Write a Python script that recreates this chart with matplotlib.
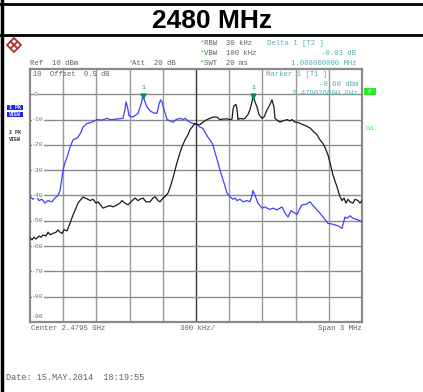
# Spectrum analyzer screen: 2480 MHz channel, two PK traces.

import matplotlib.pyplot as plt
from matplotlib.patches import Polygon, Rectangle

# Trace 1 (blue), x in pixels of the screen grid -> converted to MHz offset below
blue_px = [30, 33, 36, 39, 42, 45, 48, 52, 55, 58, 60, 62, 63, 65, 67, 70, 73, 76, 78, 81,
           83, 87, 92, 97, 102, 107, 110, 113, 118, 123, 125, 126, 127.5, 129, 132, 135, 138, 141, 143, 145,
           147, 150, 152, 155, 157, 159, 160.5, 162, 164, 167, 170, 173, 176, 180, 183, 185, 188, 190, 193, 197,
           200, 203, 205, 208, 210, 213, 215, 218, 220, 224, 227, 230, 233, 235, 237, 240, 243, 247, 250, 252,
           253, 255, 258, 262, 265, 267, 270, 273, 277, 280, 282, 285, 288, 291, 293, 297, 300, 302, 306, 310,
           313, 317, 320, 323, 326, 328, 331, 334, 338, 342, 344, 345, 347, 350, 353, 357, 360, 362]
blue_db = [-40.5, -41.5, -40, -42, -41.5, -43, -42, -42.5, -41, -40, -38, -33, -30, -27, -25, -21, -18, -17.5, -17, -15,
           -13, -11.5, -11, -10, -10.2, -9.5, -10, -10, -9.7, -9.5, -6, -3, -5, -8.5, -9, -8.5, -7.5, -4, -0.6, -3,
           -5, -6.5, -7, -7.5, -7.5, -4, -2.2, -3, -6, -10, -10.5, -11, -10, -9.5, -10, -9.5, -10.5, -11, -11.5, -12,
           -13, -13.5, -15, -17, -18, -20, -23, -27, -30, -35, -39, -40.5, -41.5, -41, -42, -41.5, -42.5, -42, -42.5, -40,
           -38, -40, -43, -45, -44.5, -45, -45.5, -45, -45.7, -45, -44.5, -47, -48.5, -46, -46.5, -47.5, -45, -43.7, -43.5, -42.5,
           -44, -45.7, -47, -48.5, -50, -51, -51.2, -51.5, -52, -53, -50, -48.5, -49, -48, -49, -49.5, -50, -50.5]

# Trace 2 (black)
black_px = [30, 32, 34, 36, 39, 41, 43, 46, 48, 50, 53, 56, 58, 60, 62, 64, 67, 70, 73, 76,
            78, 80, 83, 85, 88, 90, 93, 96, 98, 101, 103, 106, 110, 113, 117, 120, 122, 125, 128, 131,
            135, 138, 140, 143, 146, 150, 153, 155, 158, 160, 163, 165, 168, 170, 173, 177, 180, 182, 185, 188,
            190, 193, 195, 198, 200, 203, 207, 210, 213, 217, 220, 223, 227, 230, 232, 233, 234, 236, 237, 238,
            240, 243, 245, 248, 250, 252, 253, 255, 257, 259, 262, 264, 267, 270, 272, 274, 275, 278, 280, 283,
            287, 290, 292, 295, 297, 300, 303, 306, 310, 313, 317, 320, 323, 325, 328, 330, 333, 337, 340, 342,
            344, 346, 348, 350, 353, 355, 358, 360, 362]
black_db = [-56.8, -57.5, -56.5, -57.2, -56, -56.5, -55.6, -56, -54.5, -55.5, -55, -54.5, -53.6, -54.5, -55, -53.5, -54, -51, -47.7, -45,
            -43, -42, -40.6, -41, -41.5, -42, -41.5, -43, -42.5, -44, -45, -44.5, -44, -44.5, -43.7, -43, -42, -43, -43.7, -42.5,
            -41, -42, -41.5, -41, -42.5, -42.5, -41, -40.5, -42, -42.5, -41, -40.5, -39, -37, -33, -27, -23, -20.8, -18, -16,
            -14, -12.5, -11.5, -12, -12, -11, -10, -9.5, -9, -9, -10, -9.8, -9.7, -10, -9.8, -6, -4.5, -4, -6, -10,
            -9.5, -9.8, -9.5, -8, -6, -3, -0.63, -3, -5, -8, -9.5, -9, -6.2, -4, -2.2, -5, -9.5, -10.5, -11, -10.5,
            -10, -10.5, -10, -11, -11, -11.5, -12, -12.5, -13.3, -14.5, -16, -18, -19.5, -21, -24, -27, -32, -36.6, -40.5, -42,
            -41, -43, -41.5, -42.5, -43, -41.5, -42, -43, -42]

level_labels = ['0', '-10', '-20', '-30', '-40', '-50', '-60', '-70', '-80', '-90']


def px_to_mhz(p):
    return (p - 30) / 332 * 3 - 1.5


blue_f = [px_to_mhz(p) for p in blue_px]
black_f = [px_to_mhz(p) for p in black_px]

fig = plt.figure(figsize=(4.23, 3.92), dpi=100)
fig.patch.set_facecolor('white')

# Screen grid
ax = fig.add_axes([30 / 423, (392 - 322) / 392, 332 / 423, 253 / 392])
ax.set_xlim(-1.5, 1.5)
ax.set_ylim(-90, 10)
for i in range(1, 10):
    x = -1.5 + 0.3 * i
    ax.axvline(x, color='#333333' if i == 5 else '#999999', lw=1.0 if i == 5 else 1.0, zorder=1)
    ax.axhline(10 - 10 * i, color='#8a8a8a', lw=1.0, zorder=1)
for s in ax.spines.values():
    s.set_color('#8a8a8a')
    s.set_linewidth(1.6)
ax.set_xticks([])
ax.set_yticks([])

ax.plot(blue_f, blue_db, color='#4040ff', lw=0.9, zorder=3)
ax.plot(black_f, black_db, color='#1a1a1a', lw=0.9, zorder=3)

# markers
mk = '#00897b'
ax.plot(px_to_mhz(143), -0.6, marker='v', color=mk, ms=3.5, zorder=4)
ax.plot(px_to_mhz(253), -0.63, marker='v', color=mk, ms=3.5, zorder=4)
ax.annotate('1', (px_to_mhz(143), -0.6), xytext=(0, 5), textcoords='offset points',
            ha='center', fontsize=4.5, color=mk, family='Liberation Mono')
ax.annotate('1', (px_to_mhz(253), -0.63), xytext=(0, 5), textcoords='offset points',
            ha='center', fontsize=4.5, color=mk, family='Liberation Mono')

# Overlay in pixel coordinates for all the screen text and the frame
ov = fig.add_axes([0, 0, 1, 1], zorder=5)
ov.set_xlim(0, 423)
ov.set_ylim(392, 0)
ov.axis('off')
ov.patch.set_visible(False)

ov.plot([0, 423], [4, 4], color='black', lw=2)
ov.plot([0, 423], [35, 35], color='black', lw=2)
ov.plot([2, 2], [0, 392], color='black', lw=2.5)
ov.text(212, 21, '2480 MHz', ha='center', va='center', fontsize=19,
        fontweight='bold', family='Liberation Sans')

# R&S logo
ov.add_patch(Polygon([[14, 38], [21, 45], [14, 52], [7, 45]], closed=True,
                     fc='white', ec='#b03030', lw=1.3))
ov.plot([10.5, 17.5], [41.5, 48.5], color='#b03030', lw=1.3)
ov.plot([10.5, 17.5], [48.5, 41.5], color='#b03030', lw=1.3)

mono = dict(family='Liberation Mono', fontsize=5.3, color='#606060', va='center')
teal = dict(family='Liberation Mono', fontsize=5.3, color='#5aaeb0', va='center')
green = '#22dd22'

ov.text(30, 63, 'Ref  10 dBm', **mono)
ov.text(128, 63, '*', family='Liberation Mono', fontsize=5.3, color=green, va='center')
ov.text(132, 63, 'Att  20 dB', **mono)
for y, s in [(43, 'RBW  30 kHz'), (53, 'VBW  100 kHz'), (63, 'SWT  20 ms')]:
    ov.text(199, y, '*', family='Liberation Mono', fontsize=5.3, color=green, va='center')
    ov.text(204, y, s, **mono)
ov.text(267, 43, 'Delta 1 [T2 ]', **teal)
ov.text(356, 53, '-0.03 dB', ha='right', **teal)
ov.text(357, 63, '1.088000000 MHz', ha='right', **teal)
ov.text(266, 74, 'Marker 1 [T1 ]', **teal)
ov.text(358, 84, '-0.60 dBm', ha='right', **teal)
ov.text(358, 93, '2.479026000 GHz', ha='right', **teal)

ov.text(33, 74, '10  Offset  0.5 dB', family='Liberation Mono', fontsize=5.0,
        color='#606060', va='center')
for i, lab in enumerate(level_labels):
    y = 69 + 25.3 * (i + 1)
    if i == 9:
        y = 316
    ov.text(32 if lab != '0' else 34, y, lab, family='Liberation Mono', fontsize=4.6,
            color='#707070', va='center',
            bbox=dict(fc='white', ec='none', pad=0.3) if i < 9 else None)

# side indicators
ov.add_patch(Rectangle((7, 104.5), 16, 5.5, fc='#2020ff', ec='none'))
ov.add_patch(Rectangle((7, 111.5), 16, 5.5, fc='#2020ff', ec='none'))
ov.text(15, 107.3, '1 PK', ha='center', va='center', fontsize=3.6, color='white',
        family='Liberation Mono', fontweight='bold')
ov.text(15, 114.3, 'VIEW', ha='center', va='center', fontsize=3.6, color='white',
        family='Liberation Mono', fontweight='bold')
ov.text(15, 132, '2 PK', ha='center', va='center', fontsize=3.6, color='#333333',
        family='Liberation Mono', fontweight='bold')
ov.text(15, 139, 'VIEW', ha='center', va='center', fontsize=3.6, color='#333333',
        family='Liberation Mono', fontweight='bold')
ov.add_patch(Rectangle((364, 88), 12, 6.5, fc='#22ee22', ec='none'))
ov.text(370, 91.3, 'A', ha='center', va='center', fontsize=4, color='white',
        family='Liberation Mono')
ov.text(370, 129, 'LVL', ha='center', va='center', fontsize=4, color=green,
        family='Liberation Mono')

# bottom text
ov.text(31, 328, 'Center 2.4795 GHz', **mono)
ov.text(197, 328, '300 kHz/', ha='center', **mono)
ov.text(362, 328, 'Span 3 MHz', ha='right', **mono)
ov.text(6, 378, 'Date: 15.MAY.2014  18:19:55', family='Liberation Mono', fontsize=6.2,
        color='#606060', va='center')

fig.savefig('out.png', dpi=100)
